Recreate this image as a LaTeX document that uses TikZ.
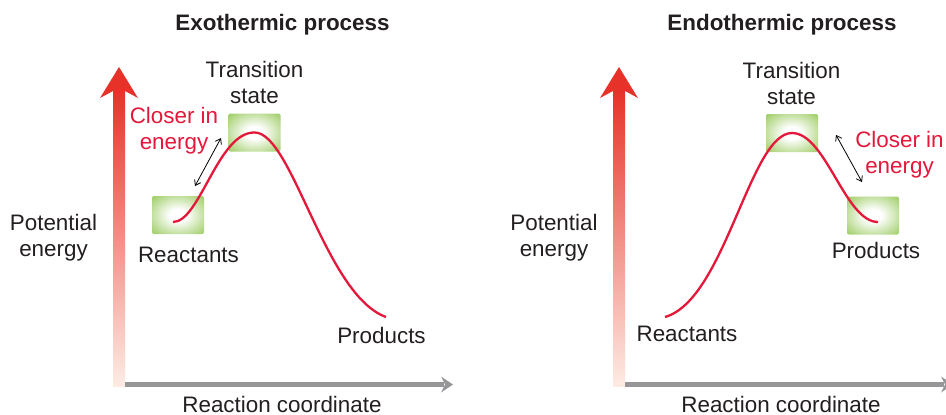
\documentclass[tikz,border=0pt]{standalone}
\usepackage{fontspec}
\setmainfont{Liberation Sans}
\usepackage{xcolor}
\usetikzlibrary{arrows.meta, positioning}
\definecolor{curvered}{RGB}{228, 24, 58}
\definecolor{arrowred}{RGB}{230, 50, 40}
\definecolor{palered}{RGB}{253, 236, 228}
\definecolor{axisgray}{RGB}{150, 150, 152}
\definecolor{glowgreen}{RGB}{155, 203, 96}
\definecolor{textgray}{RGB}{35, 31, 32}
\pgfdeclareradialshading{glow}{\pgfpoint{0bp}{0bp}}{color(0bp)=(white); color(8bp)=(white); color(36bp)=(glowgreen); color(50bp)=(glowgreen)}

\begin{document}
\begin{tikzpicture}[x=1pt, y=-1pt, >=Stealth,
    lbl/.style={font=\fontsize{22.4}{26}\selectfont, text=textgray, align=center, inner sep=0pt},
    ttl/.style={lbl, font=\fontsize{22.4}{26}\selectfont\bfseries},
    note/.style={lbl, text=curvered},
    glowbox/.style={minimum width=52pt, minimum height=38pt, rounded corners=2pt, shade, shading=glow, inner sep=0pt},
    energy/.style={curvered, line width=2.3pt},
    closer/.style={{Straight Barb[length=5pt,width=7pt]}-{Straight Barb[length=5pt,width=7pt]}, line width=0.8pt}]
    \useasboundingbox (0,0) rectangle (946,415);

    % exothermic
    \node[ttl] (exo) at (282.5,25) {Exothermic process};
    \shade[top color=arrowred, bottom color=palered] (113,90) rectangle (125,386);
    \fill[arrowred] (119,67) -- (138,98) -- (125,91) -- (113,91) -- (100,98) -- cycle;
    \fill[axisgray] (125,382) rectangle (444,387);
    \fill[axisgray] (453,384.5) -- (441,376.5) -- (445,384.5) -- (441,392.5) -- cycle;
    \node[lbl] (pe1) at (53.5,237.5) {Potential\\energy};
    \node[lbl] (rc1) at (282,404) {Reaction coordinate};

    \node[glowbox] (react1) at (178,215) {};
    \node[glowbox] (ts1) at (254.5,132.5) {};
    \coordinate (r1) at (173,222);
    \coordinate (p1) at (386,317);
    \draw[energy] (r1) .. controls (200,222) and (218,132) .. (ts1.center)
        .. controls (292,132) and (325,295) .. (p1);
    \coordinate (c1a) at (195,186);
    \coordinate (c1b) at (221,138);
    \draw[closer] (c1a) -- (c1b);
    \node[lbl] (ts1lbl) at (254.5,82) {Transition\\state};
    \node[note] (near1) at (174,131) {Closer in\\energy};
    \node[lbl] (react1lbl) at (188.5,255) {Reactants};
    \node[lbl] (prod1lbl) at (381.5,335) {Products};

    % endothermic
    \node[ttl] (endo) at (782,25) {Endothermic process};
    \shade[top color=arrowred, bottom color=palered] (613,90) rectangle (625,386);
    \fill[arrowred] (619,67) -- (638,98) -- (625,91) -- (613,91) -- (600,98) -- cycle;
    \fill[axisgray] (625,382) rectangle (944,387);
    \fill[axisgray] (953,384.5) -- (941,376.5) -- (945,384.5) -- (941,392.5) -- cycle;
    \node[lbl] (pe2) at (554,237.5) {Potential\\energy};
    \node[lbl] (rc2) at (781,404) {Reaction coordinate};

    \node[glowbox] (ts2) at (792,133) {};
    \node[glowbox] (prod2) at (873,215.5) {};
    \coordinate (r2) at (665,317);
    \coordinate (p2) at (878,222);
    \draw[energy] (r2) .. controls (725,300) and (750,133) .. (ts2.center)
        .. controls (826,133) and (845,222) .. (p2);
    \coordinate (c2a) at (836,135);
    \coordinate (c2b) at (862,182);
    \draw[closer] (c2a) -- (c2b);
    \node[lbl] (ts2lbl) at (791.5,83) {Transition\\state};
    \node[note] (near2) at (899.5,155) {Closer in\\energy};
    \node[lbl] (prod2lbl) at (876,250.5) {Products};
    \node[lbl] (react2lbl) at (687,333.5) {Reactants};
\end{tikzpicture}
\end{document}
